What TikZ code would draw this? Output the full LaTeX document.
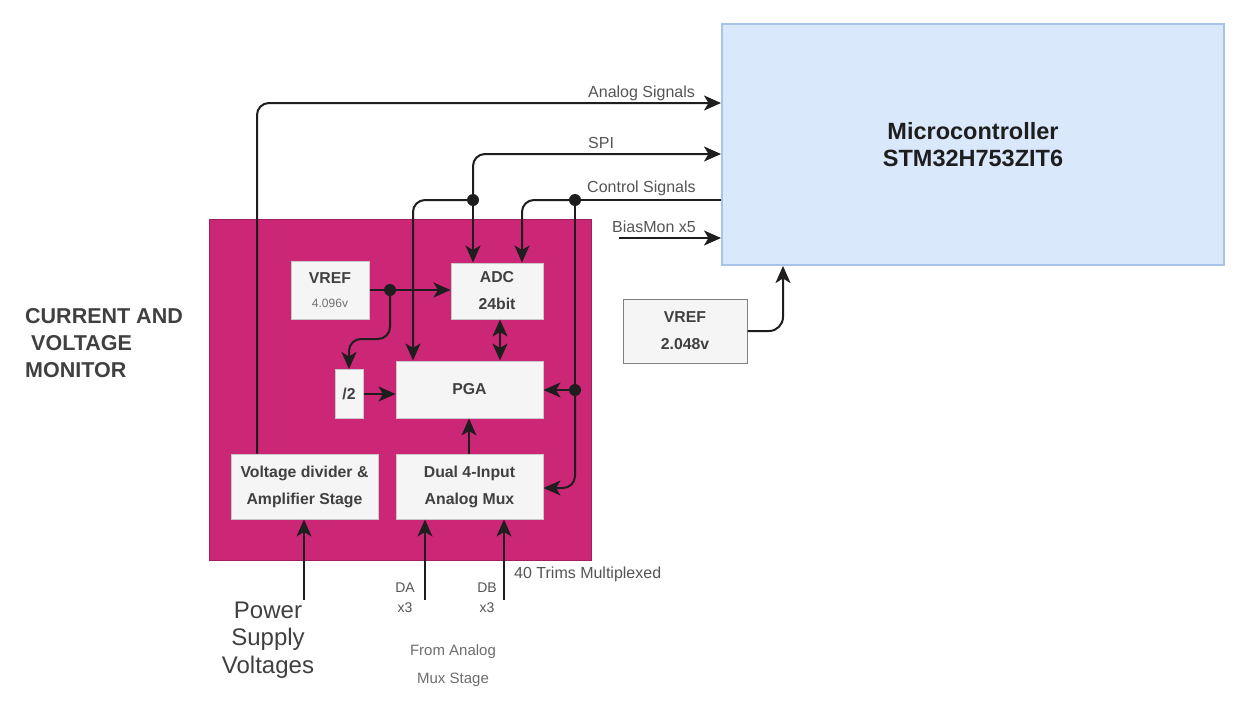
\documentclass[tikz,border=0pt]{standalone}
\usepackage{fontspec}
\setmainfont{Liberation Sans}
\usetikzlibrary{arrows.meta}
\definecolor{mag}{RGB}{204,38,118}
\definecolor{mcufill}{RGB}{218,232,252}
\definecolor{mculine}{RGB}{169,196,235}
\definecolor{boxfill}{RGB}{245,245,245}
\definecolor{boxline}{RGB}{200,200,200}
\definecolor{boxtxt}{RGB}{64,64,64}
\definecolor{lc}{RGB}{30,30,30}
\definecolor{lbl}{RGB}{85,85,85}
\definecolor{lbl2}{RGB}{110,110,110}
\tikzset{
  tip/.tip={Stealth[length=17pt,width=15pt,inset=4.5pt]},
  conn/.style={line width=2pt, draw=lc},
  arr/.style={conn, -tip},
  darr/.style={conn, tip-tip},
  rc/.style={rounded corners=12pt},
  inbox/.style={draw=boxline, fill=boxfill, line width=1pt, inner sep=0pt, align=center,
    text=boxtxt, font=\bfseries\fontsize{15.8}{27}\selectfont},
  lab/.style={text=lbl, inner sep=0pt, font=\fontsize{16}{18}\selectfont},
  dot/.style={fill=lc},
}
\begin{document}
\begin{tikzpicture}[x=1pt,y=-1pt]
\useasboundingbox[fill=white] (0,0) rectangle (1246,710);

% main blocks
\node[draw=mculine, fill=mcufill, line width=2pt, minimum width=502pt, minimum height=241pt,
  align=center, text=lc, font=\bfseries\fontsize{23.5}{27}\selectfont] (mcu) at (973,144.5)
  {Microcontroller\\STM32H753ZIT6};
\node[fill=mag, draw=mag!80!black, line width=0.8pt, minimum width=382pt, minimum height=341pt, inner sep=0pt] (cvm) at (400,389.5) {};

% inner boxes
\node[inbox, minimum width=78pt, minimum height=58pt] (vrefi) at (330,290)
  {VREF\\[-3pt]{\mdseries\color{lbl2}\fontsize{12}{12}\selectfont 4.096v}};
\node[inbox, minimum width=92pt, minimum height=56pt] (adc) at (497,291) {ADC\\24bit};
\node[inbox, minimum width=28pt, minimum height=49pt] (half) at (349,394) {/2};
\node[inbox, minimum width=147pt, minimum height=57pt] (pga) at (469.5,389.5) {PGA};
\node[inbox, minimum width=147pt, minimum height=65pt] (vd) at (304.5,486.5) {Voltage divider \&\\Amplifier Stage};
\node[inbox, minimum width=147pt, minimum height=65pt] (mux) at (469.5,486.5) {Dual 4-Input\\Analog Mux};
\node[inbox, draw=gray, minimum width=124pt, minimum height=64pt] (vref2) at (685,331)
  {VREF\\2.048v};

% coordinates
\coordinate (jspi) at (473,200);
\coordinate (jctl) at (575,200);
\coordinate (jpga) at (575,390);
\coordinate (jv) at (390,290);
\coordinate (vbend) at (390,339);
\coordinate (aup) at (257,103);
\coordinate (spiy) at (0,154);
\coordinate (ctly) at (0,200);
\coordinate (bias) at (619,238);
\coordinate (pgaIn) at (413,0);
\coordinate (adcC) at (522,0);
\coordinate (adcM) at (500,0);
\coordinate (muxT) at (469,0);
\coordinate (muxR) at (0,488);
\coordinate (psv) at (304,600);
\coordinate (da) at (425,600);
\coordinate (db) at (504,600);
\coordinate (vr2) at (783,0);

% connectors
\draw[arr,rc] (vd.north -| aup) -- (aup) -- (mcu.west |- aup);
\draw[arr,rc] (jspi) |- (mcu.west |- spiy);
\draw[arr] (jspi) -- (adc.north -| jspi);
\draw[arr,rc] (jspi) -| (pga.north -| pgaIn);
\draw[conn] (mcu.west |- ctly) -- (jctl);
\draw[arr,rc] (jctl) -| (adc.north -| adcC);
\draw[conn] (jctl) -- (jpga);
\draw[arr] (jpga) -- (pga.east |- jpga);
\draw[arr,rc] (jpga) |- (mux.east |- muxR);
\draw[arr] (bias) -- (mcu.west |- bias);
\draw[arr] (vrefi.east |- jv) -- (adc.west |- jv);
\draw[arr,rc] (jv) -- (vbend) -| (half.north);
\draw[arr] (half.east) -- (pga.west |- half.east);
\draw[darr] (adc.south -| adcM) -- (pga.north -| adcM);
\draw[arr] (mux.north -| muxT) -- (pga.south -| muxT);
\draw[arr] (psv) -- (vd.south -| psv);
\draw[arr] (da) -- (mux.south -| da);
\draw[arr] (db) -- (mux.south -| db);
\draw[arr,rounded corners=14pt] (vref2.east) -| (mcu.south -| vr2);

\fill[dot] (jspi) circle (6pt);
\fill[dot] (jctl) circle (6pt);
\fill[dot] (jpga) circle (6pt);
\fill[dot] (jv) circle (6pt);

% labels
\node[lab, anchor=base west] (lAn) at (588,97.5) {Analog Signals};
\node[lab, anchor=base west] (lSpi) at (588,148) {SPI};
\node[lab, anchor=base west] (lCtl) at (587,192) {Control Signals};
\node[lab, anchor=base west] (lBias) at (612,232) {BiasMon x5};
\node[lab, anchor=base west] (lTrim) at (514,578) {40 Trims Multiplexed};
\node[lab, align=center, font=\fontsize{14}{20}\selectfont] (lDA) at (405,598) {DA\\x3};
\node[lab, align=center, font=\fontsize{14}{20}\selectfont] (lDB) at (487,598) {DB\\x3};
\node[lab, text=lbl2, align=center, font=\fontsize{15}{28}\selectfont] (lFrom) at (453,666) {From Analog\\Mux Stage};
\node[inner sep=0pt, align=center, text=boxtxt, font=\fontsize{24}{27.5}\selectfont] (lPsv) at (268,640)
  {Power\\Supply\\Voltages};
\node[inner sep=0pt, align=left, anchor=west, text=boxtxt, font=\bfseries\fontsize{21.5}{27}\selectfont] (lCvm) at (25,343)
  {CURRENT AND\\\hspace*{6pt}VOLTAGE\\MONITOR};
\end{tikzpicture}
\end{document}
